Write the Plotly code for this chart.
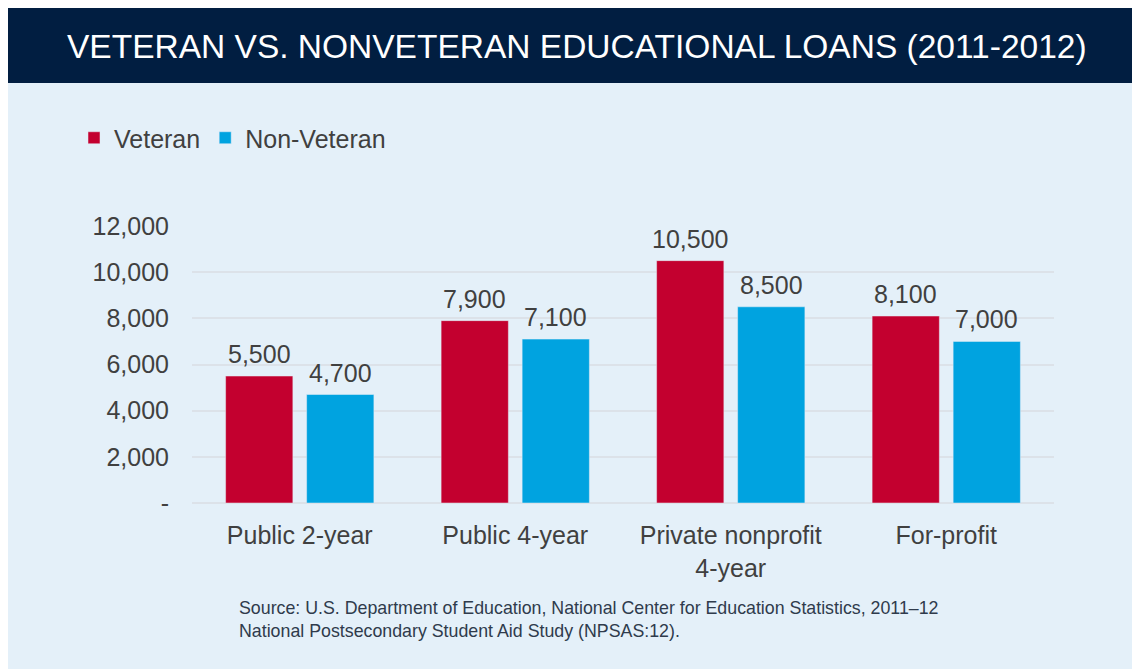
import plotly.graph_objects as go

categories = ["Public 2-year", "Public 4-year", "Private nonprofit<br>4-year", "For-profit"]
veteran = [5500, 7900, 10500, 8100]
non_veteran = [4700, 7100, 8500, 7000]
y_tickvals = [0, 2000, 4000, 6000, 8000, 10000, 12000]
y_ticktext = ["-", "2,000", "4,000", "6,000", "8,000", "10,000", "12,000"]

RED = "#C3002F"
BLUE = "#00A3E0"
NAVY = "#011E41"
BG = "#E4F0F9"
TXT = "#404040"
FONT = "Liberation Sans, Arial, sans-serif"
FS = 25

# page body has an 8px margin, so the figure is 8px smaller than the window
OFF = 8
W, H = 1140 - OFF, 669 - OFF
L, R, T, B = 192 - OFF, 86, 226 - OFF, 166
pw, ph = W - L - R, H - T - B

def rx(x):
    return (x - OFF - L) / pw

def ry(y):
    return (H - B - (y - OFF)) / ph

fig = go.Figure()
fig.add_trace(go.Bar(name="Veteran", x=categories, y=veteran, marker_color=RED))
fig.add_trace(go.Bar(name="Non-Veteran", x=categories, y=non_veteran, marker_color=BLUE))

shapes = [
    dict(type="rect", xref="paper", yref="paper", layer="below",
         x0=rx(6), x1=rx(1150), y0=ry(83), y1=ry(680),
         fillcolor=BG, line=dict(width=0)),
    dict(type="rect", xref="paper", yref="paper", layer="below",
         x0=rx(6), x1=rx(1150), y0=ry(83), y1=ry(8),
         fillcolor=NAVY, line=dict(width=0)),
]

# value labels above bars (group slot is ~81px wide -> ±40.5px)
annotations = []
for series, shift in ((veteran, -40.5), (non_veteran, 40.5)):
    for c, v in zip(categories, series):
        annotations.append(dict(x=c, y=v, xref="x", yref="y", text=f"{v:,}",
                                showarrow=False, xanchor="center", yanchor="bottom",
                                xshift=shift, yshift=6,
                                font=dict(size=FS, color=TXT, family=FONT)))

annotations += [
    dict(xref="paper", yref="paper", x=rx(577), y=ry(46),
         xanchor="center", yanchor="middle", showarrow=False,
         text="VETERAN VS. NONVETERAN EDUCATIONAL LOANS (2011-2012)",
         font=dict(family=FONT, size=33.5, color="white")),
    dict(xref="paper", yref="paper", x=rx(237), y=ry(596),
         xanchor="left", yanchor="top", showarrow=False, align="left",
         text="Source: U.S. Department of Education, National Center for Education Statistics, 2011\u201312<br>National Postsecondary Student Aid Study (NPSAS:12).",
         font=dict(family=FONT, size=17.8, color="#2F3B4C")),
]

fig.update_layout(
    width=W, height=H,
    margin=dict(l=L, r=R, t=T, b=B, pad=0),
    paper_bgcolor="white", plot_bgcolor="rgba(0,0,0,0)",
    barmode="group", bargap=0.248, bargroupgap=0.17,
    font=dict(family=FONT, color=TXT, size=FS),
    shapes=shapes, annotations=annotations,
    showlegend=True,
    legend=dict(orientation="h", x=rx(74), y=ry(138), xanchor="left", yanchor="middle",
                font=dict(size=FS, color=TXT, family=FONT), bgcolor="rgba(0,0,0,0)",
                itemwidth=30, traceorder="normal"),
    xaxis=dict(showgrid=False, showline=False, ticks="", tickfont=dict(size=FS, color=TXT),
               ticklabelstandoff=15),
    yaxis=dict(range=[0, 12000], tickvals=y_tickvals, ticktext=y_ticktext,
               showgrid=True, gridcolor="#DCE2E9", gridwidth=2,
               zeroline=True, zerolinecolor="#DCE2E9", zerolinewidth=2,
               showline=False, ticks="", tickfont=dict(size=FS, color=TXT),
               ticklabelstandoff=22),
)

fig.write_html("out.html")
